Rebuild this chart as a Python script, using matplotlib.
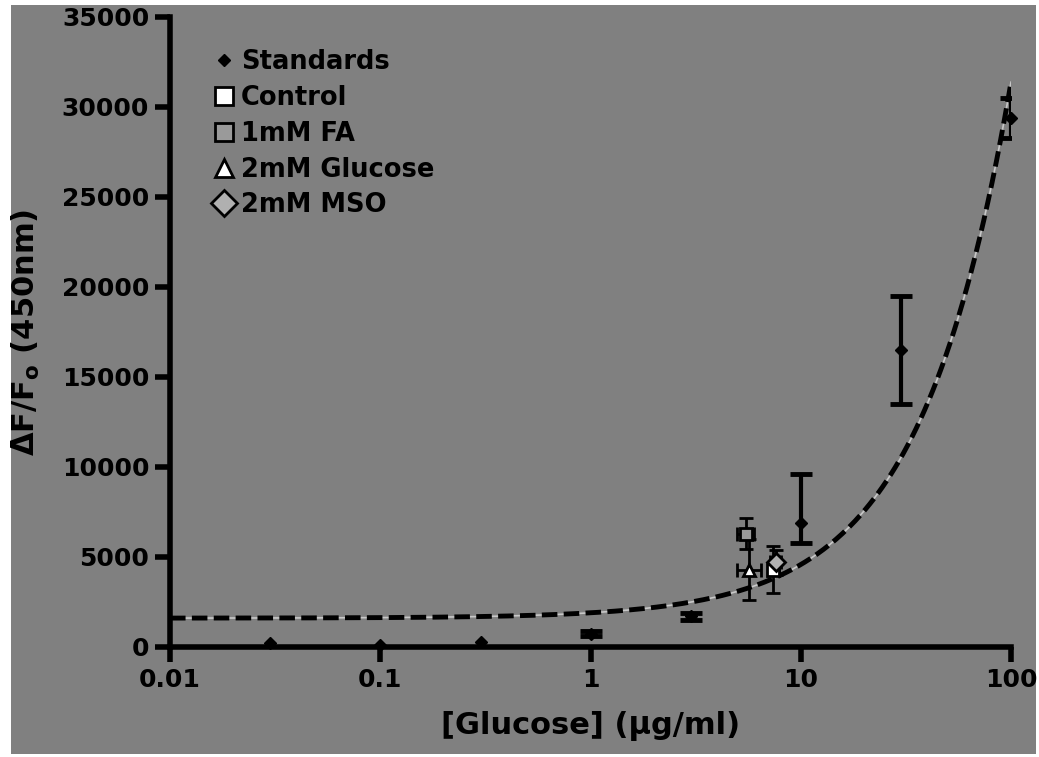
import numpy as np
import matplotlib
matplotlib.use("Agg")
import matplotlib.pyplot as plt
from matplotlib.patches import Rectangle
from matplotlib.lines import Line2D

# glucose standards (ug/ml) and their fluorescence response
std_conc = [0.03, 0.1, 0.3, 1, 3, 10, 30, 100]
std_signal = [200, 100, 280, 750, 1700, 6900, 16500, 29400]
std_err_lo = [0, 0, 0, 150, 200, 1100, 3000, 1100]
std_err_hi = [0, 0, 0, 150, 200, 2700, 3000, 1100]

# samples read back against the standard curve
sample_names = ["Control", "1mM FA", "2mM Glucose", "2mM MSO"]
sample_conc = [7.4, 5.5, 5.7, 7.6]
sample_conc_err = [0.45, 0.5, 0.75, 0.45]
sample_signal = [4300, 6300, 4300, 4700]
sample_signal_err = [1300, 850, 1700, 700]
sample_marker = ["s", "s", "^", "D"]
sample_face = ["white", "#9a9a9a", "white", "#b0b0b0"]

yticks = [0, 5000, 10000, 15000, 20000, 25000, 30000, 35000]
xticks = [0.01, 0.1, 1, 10, 100]
xtick_labels = ["0.01", "0.1", "1", "10", "100"]

plt.rcParams["font.family"] = ["DejaVu Sans"]
plt.rcParams["font.weight"] = "bold"

fig = plt.figure(figsize=(10.39, 7.57), dpi=100)
fig.patch.set_facecolor("white")
fig.patches.append(Rectangle((11 / 1039, 3 / 757), 1025 / 1039, 749 / 757,
                             transform=fig.transFigure, facecolor="#808080",
                             edgecolor="none", zorder=-10))
ax = fig.add_axes([170 / 1039, 110 / 757, 841 / 1039, 630 / 757])
ax.set_facecolor("none")

# linear fit of the standards, shown on the log axis
coef = np.polyfit(std_conc, std_signal, 1)
xx = np.logspace(-2, 2, 400)
ax.plot(xx, np.polyval(coef, xx), color="#c8c8c8", lw=1.2, zorder=2)
ax.plot(xx, np.polyval(coef, xx), color="black", lw=3.5,
        dashes=(3.2, 1.3), zorder=3)

# standards: error bars only where there is a spread
has_err = [lo + hi > 0 for lo, hi in zip(std_err_lo, std_err_hi)]
ex = [c for c, h in zip(std_conc, has_err) if h]
ey = [s for s, h in zip(std_signal, has_err) if h]
elo = [e for e, h in zip(std_err_lo, has_err) if h]
ehi = [e for e, h in zip(std_err_hi, has_err) if h]
ax.errorbar(ex, ey, yerr=[elo, ehi], fmt="none", ecolor="black",
            elinewidth=3, capsize=8, capthick=3.5, zorder=4)
ax.plot(std_conc, std_signal, "D", color="black", ms=6, zorder=5, clip_on=False)

for x, xe, y, ye, m, fc in zip(sample_conc, sample_conc_err, sample_signal,
                               sample_signal_err, sample_marker, sample_face):
    ax.errorbar(x, y, xerr=xe, yerr=ye, fmt=m, ms=9, mfc=fc, mec="black",
                mew=2, ecolor="black", elinewidth=2, capsize=5, capthick=2.5,
                zorder=6)

ax.set_xscale("log")
ax.set_xlim(0.01, 100)
ax.set_ylim(0, 35000)
ax.set_xticks(xticks)
ax.set_xticklabels(xtick_labels)
ax.xaxis.set_minor_locator(matplotlib.ticker.NullLocator())
ax.set_yticks(yticks)

for s in ["top", "right"]:
    ax.spines[s].set_visible(False)
for s in ["left", "bottom"]:
    ax.spines[s].set_linewidth(4)
ax.tick_params(axis="both", length=11, width=4, labelsize=18, pad=4)
for lab in ax.get_xticklabels() + ax.get_yticklabels():
    lab.set_fontweight("bold")

ax.set_xlabel("[Glucose] (\u03bcg/ml)", fontsize=22, fontweight="bold", labelpad=14)
ax.set_ylabel("\u0394F/F$_{\\mathbf{o}}$ (450nm)", fontsize=22, fontweight="bold", labelpad=14)

handles = [Line2D([], [], ls="none", marker="D", color="black", ms=6)]
for m, fc in zip(sample_marker, sample_face):
    handles.append(Line2D([], [], ls="none", marker=m, ms=13, mfc=fc,
                          mec="black", mew=2))
ax.legend(handles, ["Standards"] + sample_names, loc="upper left",
          bbox_to_anchor=(0.04, 0.965), frameon=False,
          prop={"size": 18.5, "weight": "bold"}, handlelength=0.8,
          handletextpad=0.25, labelspacing=0.38, borderaxespad=0)

fig.savefig("out.png", dpi=100, facecolor="white")
